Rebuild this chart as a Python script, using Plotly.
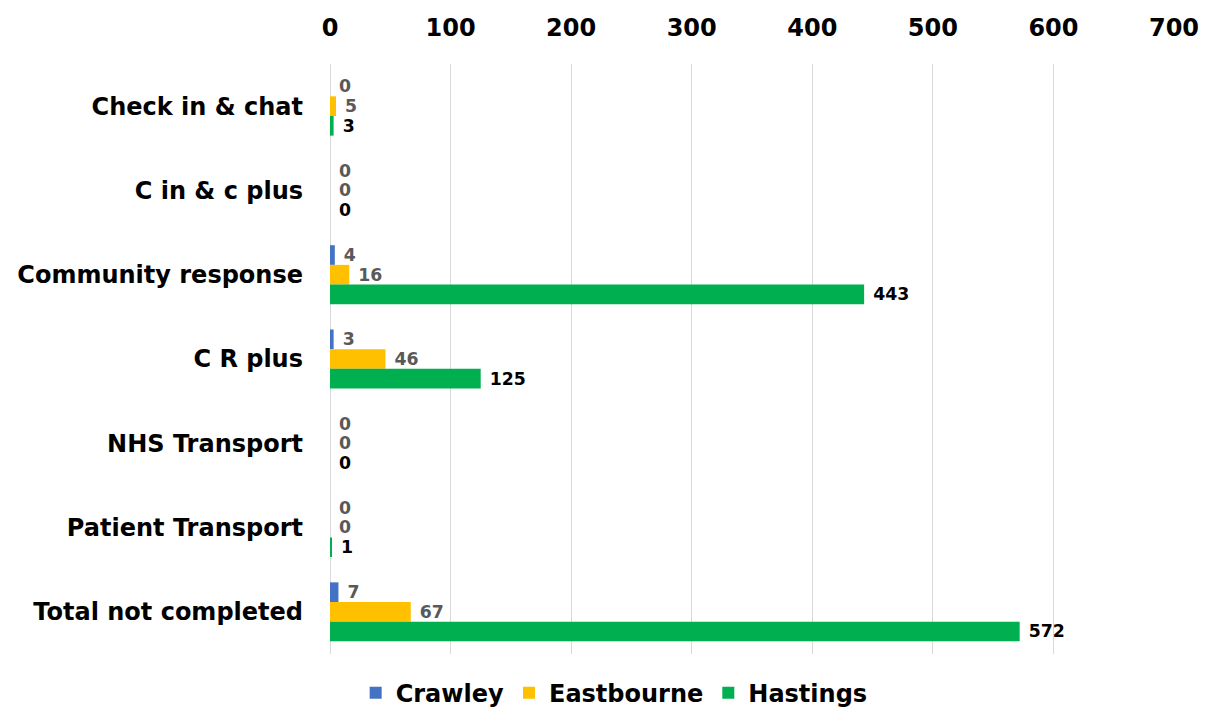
import plotly.graph_objects as go

categories = ["Check in & chat", "C in & c plus", "Community response", "C R plus",
              "NHS Transport", "Patient Transport", "Total not completed"]
crawley = [0, 0, 4, 3, 0, 0, 7]
eastbourne = [5, 0, 16, 46, 0, 0, 67]
hastings = [3, 0, 443, 125, 0, 1, 572]
tick_vals = [0, 100, 200, 300, 400, 500, 600, 700]

FONT = "DejaVu Sans"

fig = go.Figure()
series = [("Crawley", crawley, "#4472C4", "#595959"),
          ("Eastbourne", eastbourne, "#FFC000", "#595959"),
          ("Hastings", hastings, "#00B050", "#000000")]
for name, vals, col, tcol in series:
    fig.add_trace(go.Bar(
        y=categories, x=vals, name=name, orientation="h",
        marker=dict(color=col, line=dict(width=0)),
        text=["\u00a0" + str(v) for v in vals], textposition="outside",
        textfont=dict(family=FONT, size=22, color=tcol, weight="bold"),
        cliponaxis=False,
    ))

fig.update_layout(
    barmode="group", bargap=0.3, bargroupgap=0,
    width=1209, height=711,
    margin=dict(l=330, r=35, t=64, b=57, autoexpand=False),
    paper_bgcolor="white", plot_bgcolor="white",
    font=dict(family=FONT, size=20, color="black"),
    showlegend=True,
    legend=dict(orientation="h", xref="container", yref="container",
                x=0.508, xanchor="center", y=0.025, yanchor="middle",
                font=dict(family=FONT, size=24, color="black", weight="bold"),
                traceorder="normal", itemwidth=30),
    xaxis=dict(side="top", range=[0, 700], tickvals=tick_vals,
               showgrid=True, gridcolor="#D9D9D9", gridwidth=1,
               zeroline=True, zerolinecolor="#D9D9D9", zerolinewidth=1,
               showline=False, ticks="", ticklabelstandoff=22,
               tickfont=dict(family=FONT, size=24, color="black", weight="bold")),
    yaxis=dict(autorange="reversed", showgrid=False, ticks="", showline=False,
               ticklabelstandoff=26,
               tickfont=dict(family=FONT, size=24, color="black", weight="bold")),
)

fig.write_html("out.html")
